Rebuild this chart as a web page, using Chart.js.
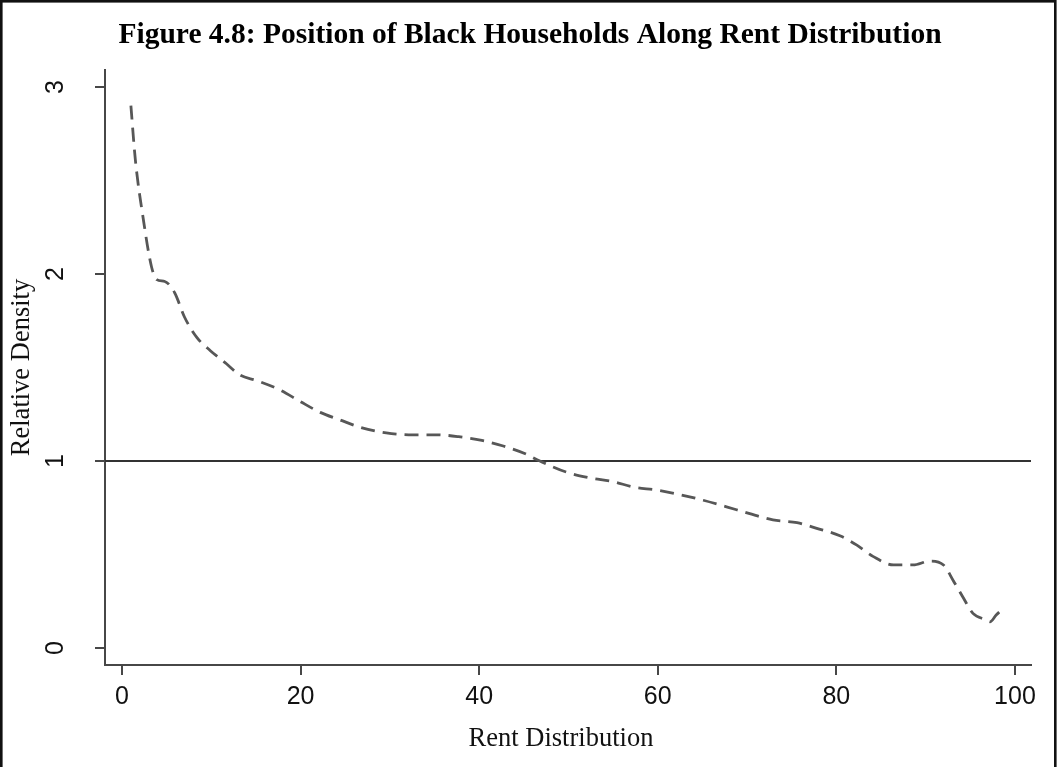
<!DOCTYPE html>
<html>
<head>
<meta charset="utf-8">
<title>Figure 4.8: Position of Black Households Along Rent Distribution</title>
<script src="https://cdn.jsdelivr.net/npm/chart.js@4/dist/chart.umd.min.js"></script>
<style>
  html, body { margin: 0; padding: 0; background: #ffffff; }
  #wrap { width: 1057px; height: 767px; position: relative; }
  canvas { display: block; }
</style>
</head>
<body>
<div id="wrap"><canvas id="chart" width="1057" height="767"></canvas></div>
<script>
// Percentile of the rent distribution
const rentPct = [1, 1.5, 2.4, 3.3, 3.9, 4.8, 5.9, 7, 8.4, 9.9, 11.7, 13.2, 15.1, 17.7, 19.9,
  22.2, 24.4, 26.7, 29.6, 32.6, 35.2, 37.7, 40.3, 42.7, 45.1, 46.8, 49.8, 52.4, 55, 57.3,
  59.9, 62.5, 65.1, 67.7, 70.2, 72.9, 75.6, 77.8, 80.4, 82.3, 84.1, 86.4, 88.6, 90.5, 92,
  93.1, 94.2, 95.3, 96.8, 97.2, 97.9, 98.9];

// Relative density of Black households at each percentile
const relDensity = [2.90, 2.61, 2.29, 2.04, 1.97, 1.96, 1.90, 1.77, 1.66, 1.59, 1.52, 1.46, 1.43, 1.38, 1.32,
  1.26, 1.22, 1.18, 1.15, 1.14, 1.14, 1.13, 1.11, 1.08, 1.04, 1.00, 0.94, 0.91, 0.89, 0.86,
  0.845, 0.82, 0.79, 0.755, 0.72, 0.685, 0.67, 0.64, 0.60, 0.55, 0.49, 0.444, 0.444, 0.465, 0.444,
  0.36, 0.27, 0.185, 0.15, 0.14, 0.176, 0.22];

// Tick values and the parity reference level
const xTickValues = [0, 20, 40, 60, 80, 100];
const yTickValues = [0, 1, 2, 3];
const parityLevel = 1;

// Text
const chartTitle = 'Figure 4.8: Position of Black Households Along Rent Distribution';
const xAxisTitle = 'Rent Distribution';
const yAxisTitle = 'Relative Density';

const points = rentPct.map((x, i) => ({ x: x, y: relDensity[i] }));

const AXIS_COLOR = '#474747';
const TEXT_COLOR = '#111111';
const SERIF = '"Liberation Serif", "Times New Roman", serif';
const SANS = '"Liberation Sans", Arial, sans-serif';

// Solid horizontal line at the parity level, drawn across the plot region
const parityLine = {
  id: 'parityLine',
  beforeDatasetsDraw(chart) {
    const { ctx, chartArea, scales } = chart;
    const y = scales.y.getPixelForValue(parityLevel);
    ctx.save();
    ctx.strokeStyle = '#333333';
    ctx.lineWidth = 2.2;
    ctx.beginPath();
    ctx.moveTo(chartArea.left, y);
    ctx.lineTo(chartArea.right, y);
    ctx.stroke();
    ctx.restore();
  }
};

// Heading, x-axis title, rotated y tick labels and the outer frame
const annotations = {
  id: 'annotations',
  afterDraw(chart) {
    const { ctx, scales } = chart;
    const ys = scales.y;
    ctx.save();

    // heading
    ctx.fillStyle = '#000000';
    ctx.font = 'bold 29.5px ' + SERIF;
    ctx.textAlign = 'center';
    ctx.textBaseline = 'alphabetic';
    ctx.fillText(chartTitle, 530, 43);

    // x-axis title
    ctx.fillStyle = TEXT_COLOR;
    ctx.font = '26.5px ' + SERIF;
    ctx.fillText(xAxisTitle, 561, 746);

    // y tick labels, reading bottom to top
    ctx.font = '25px ' + SANS;
    ctx.textBaseline = 'middle';
    ys.ticks.forEach(t => {
      const py = ys.getPixelForValue(t.value);
      ctx.save();
      ctx.translate(56, py);
      ctx.rotate(-Math.PI / 2);
      ctx.fillText(String(t.value), 0, 0);
      ctx.restore();
    });

    // frame
    ctx.strokeStyle = '#111111';
    ctx.lineWidth = 2.6;
    ctx.strokeRect(1.3, 1.3, chart.width - 3, chart.height + 40);
    ctx.restore();
  }
};

new Chart(document.getElementById('chart'), {
  type: 'line',
  data: {
    datasets: [{
      label: yAxisTitle,
      data: points,
      borderColor: '#575757',
      borderWidth: 2.8,
      borderDash: [14, 8],
      pointRadius: 0,
      fill: false,
      cubicInterpolationMode: 'monotone'
    }]
  },
  options: {
    responsive: false,
    animation: false,
    devicePixelRatio: 1,
    layout: { padding: { left: 0, right: 26, top: 70, bottom: 0 } },
    plugins: {
      legend: { display: false },
      tooltip: { enabled: false },
      title: { display: false }
    },
    scales: {
      x: {
        type: 'linear',
        min: -1.9,
        max: 101.8,
        afterBuildTicks: s => { s.ticks = xTickValues.map(v => ({ value: v })); },
        afterFit: s => { s.height = 102; },
        grid: { drawOnChartArea: false, drawTicks: true, tickLength: 10, color: AXIS_COLOR, lineWidth: 2 },
        border: { display: true, color: AXIS_COLOR, width: 2 },
        ticks: {
          color: TEXT_COLOR,
          padding: 7,
          maxRotation: 0,
          font: { family: SANS, size: 25 }
        },
        title: { display: false }
      },
      y: {
        type: 'linear',
        min: -0.091,
        max: 3.091,
        afterBuildTicks: s => { s.ticks = yTickValues.map(v => ({ value: v })); },
        afterFit: s => { s.width = 105; },
        grid: { drawOnChartArea: false, drawTicks: true, tickLength: 10, color: AXIS_COLOR, lineWidth: 2 },
        border: { display: true, color: AXIS_COLOR, width: 2 },
        ticks: { display: false },
        title: {
          display: true,
          text: yAxisTitle,
          color: TEXT_COLOR,
          font: { family: SERIF, size: 26.5 },
          padding: { top: 6, bottom: 0 }
        }
      }
    }
  },
  plugins: [parityLine, annotations]
});
</script>
</body>
</html>
